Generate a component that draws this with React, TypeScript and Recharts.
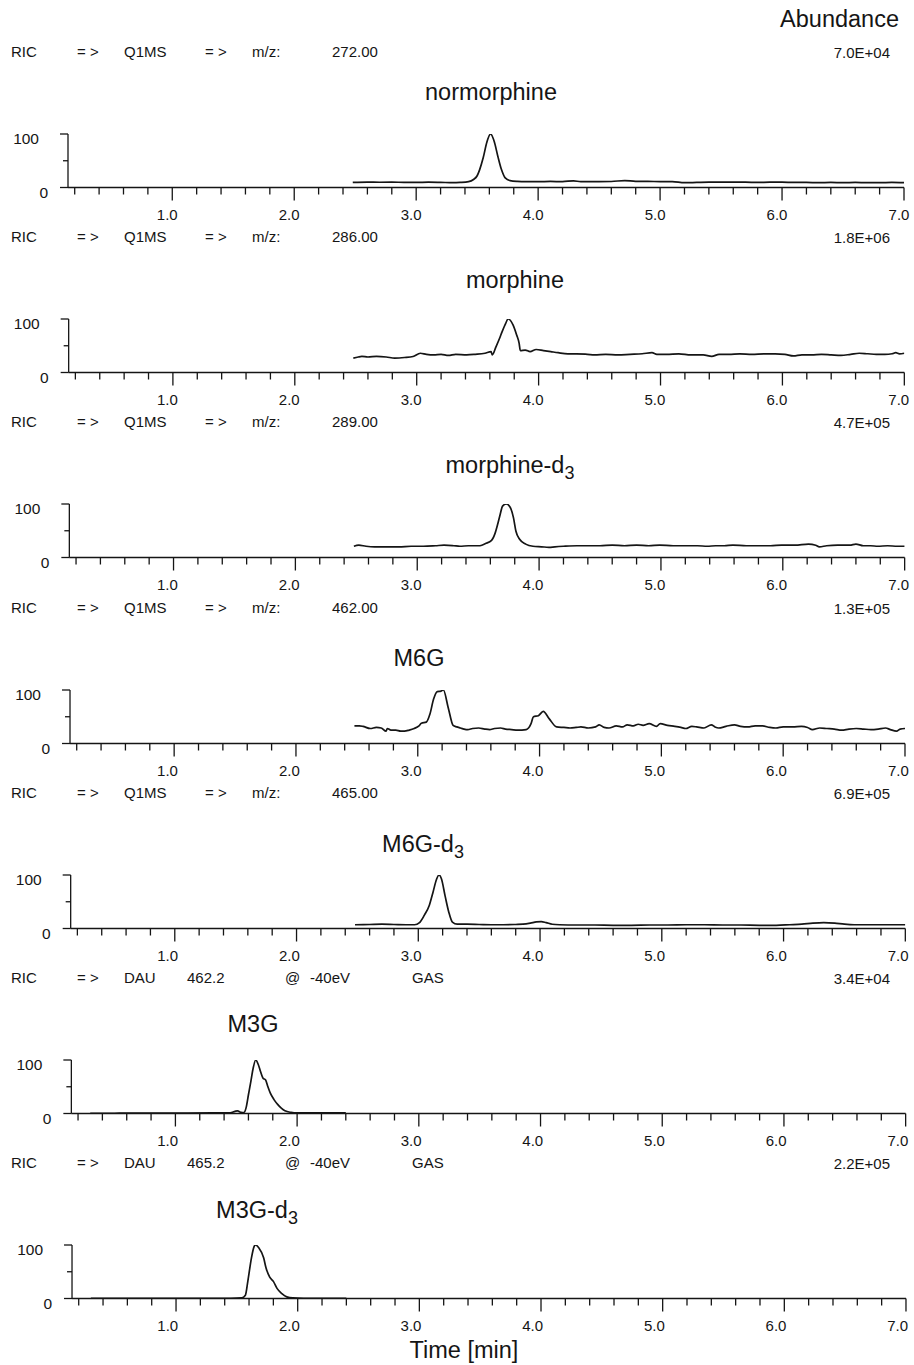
import { Line, LineChart, XAxis, YAxis } from "recharts";

const FONT = '"Liberation Sans", Arial, Helvetica, sans-serif';
const INK = "#151515";

// axis ticks (minutes / percent)
const TIME_TICKS = [
  0.2, 0.4, 0.6, 0.8, 1.0, 1.2, 1.4, 1.6, 1.8, 2.0, 2.2, 2.4, 2.6, 2.8, 3.0, 3.2, 3.4, 3.6,
  3.8, 4.0, 4.2, 4.4, 4.6, 4.8, 5.0, 5.2, 5.4, 5.6, 5.8, 6.0, 6.2, 6.4, 6.6, 6.8, 7.0,
];
const PCT_TICKS = [0, 50, 100];

// [time min, relative abundance %]
const NORMORPHINE = [
  [2.48, 9.5], [2.6, 10], [2.7, 9.8], [2.8, 10], [2.9, 9.6], [3.0, 9.5], [3.1, 10], [3.2, 9.6],
  [3.3, 9], [3.36, 9.5], [3.43, 11], [3.47, 15], [3.5, 22], [3.52, 33], [3.55, 56], [3.58, 85],
  [3.61, 100], [3.64, 86], [3.67, 58], [3.7, 33], [3.73, 18], [3.77, 13], [3.83, 11.5], [3.9, 11],
  [4.0, 11], [4.1, 11.3], [4.2, 11], [4.29, 12.5], [4.35, 11], [4.5, 11], [4.6, 11.2], [4.71, 13],
  [4.8, 11.5], [4.9, 11.5], [5.0, 11], [5.1, 11], [5.2, 9], [5.3, 9.5], [5.4, 10], [5.5, 10],
  [5.6, 10], [5.7, 10], [5.8, 9.5], [5.9, 10], [6.0, 10], [6.1, 9.5], [6.2, 9.5], [6.3, 9],
  [6.4, 9.5], [6.5, 9], [6.6, 9.5], [6.7, 9], [6.8, 9], [6.9, 9.5], [7.0, 9],
];

const MORPHINE = [
  [2.48, 27], [2.52, 29], [2.55, 30], [2.6, 29], [2.67, 30], [2.75, 29], [2.82, 27], [2.9, 28],
  [2.97, 30], [3.03, 36], [3.08, 34], [3.14, 33], [3.2, 34], [3.26, 32], [3.32, 34], [3.41, 33],
  [3.48, 34], [3.56, 36], [3.61, 39], [3.62, 33], [3.65, 48], [3.68, 64], [3.7, 76], [3.73, 92],
  [3.75, 100], [3.79, 89], [3.82, 70], [3.84, 55], [3.85, 41], [3.89, 42], [3.93, 39], [3.98, 43],
  [4.04, 41], [4.1, 39], [4.16, 37], [4.24, 35], [4.31, 35], [4.4, 34], [4.46, 33], [4.55, 34],
  [4.65, 33], [4.75, 34], [4.85, 35], [4.93, 37], [4.97, 34], [5.05, 34], [5.15, 35], [5.25, 33],
  [5.35, 33], [5.42, 30], [5.48, 34], [5.56, 34], [5.65, 35], [5.75, 34], [5.85, 35], [5.94, 35],
  [6.02, 34], [6.09, 31], [6.16, 33], [6.24, 33], [6.32, 34], [6.4, 33], [6.48, 32], [6.56, 34],
  [6.63, 36], [6.7, 35], [6.77, 34], [6.84, 34], [6.9, 35], [6.93, 37], [6.96, 35], [7.0, 36],
];

const MORPHINE_D3 = [
  [2.48, 21], [2.52, 23], [2.58, 21], [2.65, 20], [2.75, 20], [2.85, 20], [2.95, 21], [3.05, 21],
  [3.15, 22], [3.22, 23], [3.3, 22], [3.35, 21], [3.42, 22], [3.5, 22], [3.53, 23], [3.56, 26],
  [3.61, 32], [3.64, 46], [3.66, 62], [3.68, 80], [3.7, 96], [3.73, 100], [3.76, 95], [3.79, 74],
  [3.81, 49], [3.84, 34], [3.89, 25], [3.95, 21], [4.02, 20], [4.08, 19], [4.13, 20], [4.2, 21],
  [4.31, 22], [4.4, 22], [4.5, 22], [4.6, 23], [4.7, 22], [4.8, 23], [4.9, 22], [4.99, 23],
  [5.1, 22], [5.2, 22], [5.3, 22], [5.38, 21], [5.45, 22], [5.52, 22], [5.59, 23], [5.7, 22],
  [5.8, 22], [5.9, 22], [5.99, 23], [6.1, 23], [6.21, 25], [6.27, 23], [6.3, 20], [6.36, 22],
  [6.45, 23], [6.55, 23], [6.6, 25], [6.66, 22], [6.72, 22], [6.78, 21], [6.86, 22], [6.94, 21],
  [7.0, 21],
];

const M6G = [
  [2.48, 33], [2.52, 33], [2.55, 32], [2.61, 28], [2.66, 30], [2.7, 29], [2.74, 23], [2.75, 28],
  [2.78, 25], [2.82, 25], [2.86, 23], [2.89, 23], [2.93, 25], [2.97, 28], [3.01, 33], [3.03, 38],
  [3.07, 40], [3.1, 55], [3.13, 83], [3.16, 97], [3.19, 98], [3.21, 100], [3.25, 67], [3.29, 34],
  [3.32, 31], [3.35, 29], [3.38, 27], [3.41, 26], [3.45, 28], [3.5, 29], [3.55, 27], [3.59, 26],
  [3.63, 28], [3.68, 29], [3.72, 27], [3.77, 26], [3.82, 25], [3.89, 26], [3.93, 37], [3.95, 50],
  [3.99, 52], [4.03, 60], [4.08, 46], [4.14, 31], [4.2, 30], [4.25, 29], [4.3, 30], [4.34, 31],
  [4.4, 29], [4.46, 31], [4.49, 35], [4.53, 30], [4.57, 29], [4.63, 33], [4.68, 31], [4.72, 35],
  [4.77, 33], [4.81, 36], [4.85, 34], [4.9, 37], [4.96, 32], [4.99, 37], [5.05, 34], [5.11, 32],
  [5.16, 30], [5.2, 28], [5.25, 32], [5.29, 31], [5.35, 29], [5.41, 35], [5.44, 31], [5.47, 29],
  [5.53, 32], [5.6, 35], [5.65, 32], [5.71, 31], [5.77, 33], [5.83, 33], [5.89, 30], [5.94, 29],
  [6.0, 31], [6.08, 31], [6.15, 32], [6.2, 30], [6.24, 26], [6.3, 29], [6.36, 28], [6.42, 27],
  [6.48, 25], [6.54, 27], [6.6, 28], [6.66, 27], [6.72, 26], [6.78, 27], [6.84, 29], [6.88, 26],
  [6.93, 23], [6.96, 27], [7.0, 28],
];

const M6G_D3 = [
  [2.48, 7], [2.6, 7.5], [2.7, 8], [2.8, 7.5], [2.9, 7], [2.97, 7], [3.01, 11], [3.05, 25],
  [3.09, 43], [3.12, 67], [3.15, 92], [3.17, 100], [3.19, 93], [3.22, 61], [3.25, 31], [3.28, 12],
  [3.32, 8], [3.4, 8], [3.5, 7.5], [3.6, 7], [3.7, 7], [3.8, 7.5], [3.86, 8], [3.92, 10],
  [3.97, 12.5], [4.01, 13], [4.05, 11], [4.1, 8], [4.16, 7], [4.3, 6.5], [4.45, 6.5], [4.6, 6],
  [4.75, 6], [4.9, 6.5], [5.05, 6.5], [5.2, 7], [5.35, 7], [5.5, 6.5], [5.65, 6.5], [5.8, 6],
  [5.94, 6], [6.05, 7], [6.15, 8], [6.24, 10], [6.33, 11], [6.42, 10], [6.5, 8], [6.58, 7],
  [6.7, 7], [6.85, 7], [7.0, 7],
];

const M3G = [
  [0.3, 0.5], [0.5, 0.5], [0.7, 0.8], [0.9, 0.6], [1.1, 0.8], [1.3, 1], [1.45, 1.2], [1.49, 4],
  [1.51, 5], [1.54, 2], [1.56, 1.5], [1.58, 10], [1.6, 35], [1.62, 60], [1.64, 86], [1.66, 100],
  [1.68, 92], [1.7, 78], [1.72, 66], [1.74, 63], [1.76, 50], [1.78, 38], [1.81, 26], [1.84, 17],
  [1.87, 10], [1.9, 5], [1.95, 2], [2.0, 1], [2.2, 1], [2.4, 1],
];

const M3G_D3 = [
  [0.3, 0.3], [0.5, 0.3], [0.7, 0.3], [0.9, 0.3], [1.1, 0.3], [1.3, 0.4], [1.45, 0.5], [1.54, 1],
  [1.57, 6], [1.59, 32], [1.62, 76], [1.64, 96], [1.65, 100], [1.68, 95], [1.72, 76], [1.74, 57],
  [1.77, 40], [1.8, 32], [1.83, 19], [1.87, 9], [1.91, 3], [1.96, 1], [2.05, 0.5], [2.2, 0.4],
  [2.4, 0.4],
];

const SERIES = [NORMORPHINE, MORPHINE, MORPHINE_D3, M6G, M6G_D3, M3G, M3G_D3];

const TITLES = ["normorphine", "morphine", "morphine-d", "M6G", "M6G-d", "M3G", "M3G-d"];
const TITLE_SUB = ["", "", "3", "", "3", "", "3"];
const SCALES = ["7.0E+04", "1.8E+06", "4.7E+05", "1.3E+05", "6.9E+05", "3.4E+04", "2.2E+05"];
const HEADERS = [
  ["RIC", "= >", "Q1MS", "= >", "m/z:", "272.00"],
  ["RIC", "= >", "Q1MS", "= >", "m/z:", "286.00"],
  ["RIC", "= >", "Q1MS", "= >", "m/z:", "289.00"],
  ["RIC", "= >", "Q1MS", "= >", "m/z:", "462.00"],
  ["RIC", "= >", "Q1MS", "= >", "m/z:", "465.00"],
  ["RIC", "= >", "DAU", "462.2", "@", "-40eV", "GAS"],
  ["RIC", "= >", "DAU", "465.2", "@", "-40eV", "GAS"],
];

// layout
const PLOT_TOP = 134;
const STEP = 185.2;
const PLOT_H = 53.5;
const Q1_X = [11, 77, 124, 205, 252, 332];
const DAU_X = [11, 77, 124, 187, 285, 310, 412];
const TITLE_X = [491, 515, 510, 419, 423, 253, 257];
const TITLE_Y = [100, 288, 473, 666, 852, 1032, 1218];

function TimeTick(props: any) {
  const { x, y, payload, shift = 0 } = props;
  const v = payload.value as number;
  const major = Math.abs(v - Math.round(v)) < 1e-6;
  return (
    <g>
      <line x1={x} x2={x} y1={y} y2={y + (major ? 13 : 7)} stroke={INK} strokeWidth={1.3} />
      {major && (
        <text x={x - shift} y={y + 32} textAnchor="middle" fontFamily={FONT} fontSize={15} fill={INK}>
          {v.toFixed(1)}
        </text>
      )}
    </g>
  );
}

function PctTick(props: any) {
  const { x, y, payload } = props;
  const v = payload.value as number;
  return (
    <g>
      <line x1={x - (v === 50 ? 5 : 8)} x2={x} y1={y} y2={y} stroke={INK} strokeWidth={1.3} />
      {v !== 50 && (
        <text x={v === 100 ? x - 29 : x - 20} y={y + 10} textAnchor="end" fontFamily={FONT} fontSize={15.5} fill={INK}>
          {v}
        </text>
      )}
    </g>
  );
}

function Panel({ index }: { index: number }) {
  const top = PLOT_TOP + index * STEP;
  const left = 68 + index * 0.67;
  const right = 904 + index * 0.33;
  const rows = SERIES[index].map(([t, v]) => ({ t, v }));
  const axis = { stroke: INK, strokeWidth: 1.3 };
  return (
    <div style={{ position: "absolute", left: 0, top: top - 10 }}>
      <LineChart
        width={914}
        height={10 + PLOT_H + 40}
        data={rows}
        margin={{ top: 10, right: 914 - right, bottom: 0, left: 0 }}
      >
        <XAxis
          dataKey="t"
          type="number"
          domain={[0.145, 7]}
          allowDataOverflow
          ticks={TIME_TICKS}
          interval={0}
          tick={<TimeTick shift={5 + index * 0.55} />}
          tickSize={0}
          tickMargin={0}
          tickLine={false}
          axisLine={axis}
          height={40}
        />
        <YAxis
          type="number"
          domain={[0, 100]}
          allowDataOverflow
          ticks={PCT_TICKS}
          interval={0}
          tick={<PctTick />}
          tickSize={0}
          tickMargin={0}
          tickLine={false}
          axisLine={axis}
          width={left}
        />
        <Line
          dataKey="v"
          type="monotone"
          stroke={INK}
          strokeWidth={1.7}
          dot={false}
          isAnimationActive={false}
        />
      </LineChart>
    </div>
  );
}

function Labels() {
  return (
    <svg
      width={914}
      height={1365}
      style={{ position: "absolute", left: 0, top: 0, pointerEvents: "none" }}
      fontFamily={FONT}
      fill={INK}
    >
      <text x={899} y={27} textAnchor="end" fontSize={23.5}>
        Abundance
      </text>
      {HEADERS.map((row, i) => {
        const y = PLOT_TOP + i * STEP - 77;
        const xs = row.length === 6 ? Q1_X : DAU_X;
        return (
          <g key={i}>
            {row.map((s, j) => (
              <text key={j} x={xs[j]} y={y} fontSize={15}>
                {s}
              </text>
            ))}
            <text x={890} y={y + 1} textAnchor="end" fontSize={15}>
              {SCALES[i]}
            </text>
          </g>
        );
      })}
      {TITLES.map((s, i) => (
        <text key={s} x={TITLE_X[i]} y={TITLE_Y[i]} textAnchor="middle" fontSize={23.5}>
          {s}
          {TITLE_SUB[i] && (
            <tspan dy={6} fontSize={18}>
              {TITLE_SUB[i]}
            </tspan>
          )}
        </text>
      ))}
      <text x={464} y={1358} textAnchor="middle" fontSize={23.5}>
        Time [min]
      </text>
    </svg>
  );
}

export default function App() {
  return (
    <div style={{ position: "absolute", left: 0, top: 0, width: 914, height: 1365, background: "#fff" }}>
      {SERIES.map((_, i) => (
        <Panel key={i} index={i} />
      ))}
      <Labels />
    </div>
  );
}
